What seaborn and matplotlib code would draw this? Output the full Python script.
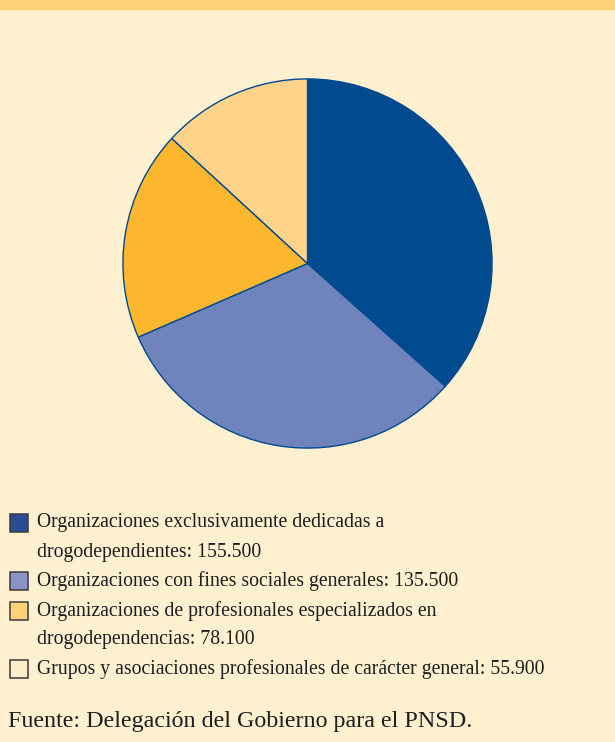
import matplotlib.pyplot as plt
import matplotlib.patches as mpatches
import seaborn as sns

# data
labels = [
    "Organizaciones exclusivamente dedicadas a\ndrogodependientes: 155.500",
    "Organizaciones con fines sociales generales: 135.500",
    "Organizaciones de profesionales especializados en\ndrogodependencias: 78.100",
    "Grupos y asociaciones profesionales de carácter general: 55.900",
]
values = [155500, 135500, 78100, 55900]
colors = ["#004A8F", "#6F84BC", "#FDB72E", "#FFD48A"]
legend_colors = ["#2A4B96", "#8B93C5", "#FFD27A", "#FFEFC8"]

bg = "#FFF0D0"
sns.set_theme(style="white")
plt.rcParams['font.family'] = ['Liberation Serif', 'DejaVu Serif']

fig = plt.figure(figsize=(6.15, 7.42), dpi=100)
fig.patch.set_facecolor(bg)

# top stripe
fig.patches.append(mpatches.Rectangle((0, 1 - 9 / 742), 1, 9 / 742, transform=fig.transFigure,
                                      color="#FFD27A", zorder=0))

ax = fig.add_axes([122 / 615, (742 - 449) / 742, 371 / 615, 371 / 742])
ax.set_facecolor(bg)
ax.pie(values, colors=colors, startangle=90, counterclock=False, radius=1,
       wedgeprops=dict(edgecolor="#004A8F", linewidth=1.0))
ax.set_xlim(-1.005, 1.005)
ax.set_ylim(-1.005, 1.005)
ax.set_aspect("equal")
ax.axis("off")

# legend drawn by hand so wrapped lines stay aligned like the original
line_h = 29.2
y = 523
for lab, col in zip(labels, legend_colors):
    fig.patches.append(mpatches.Rectangle((9.5 / 615, 1 - (y + 9) / 742), 18 / 615, 18 / 742,
                                          transform=fig.transFigure, facecolor=col,
                                          edgecolor="#3a3a3a", linewidth=1.1))
    for ln in lab.split("\n"):
        fig.text(37 / 615, 1 - y / 742, ln, ha="left", va="center", fontsize=14.2,
                 color="#1e1e1e")
        y += line_h

fig.text(8 / 615, 1 - 722 / 742, "Fuente: Delegación del Gobierno para el PNSD.",
         ha="left", va="center", fontsize=17.3, color="#1e1e1e")

fig.savefig("out.png", dpi=100, facecolor=bg)
